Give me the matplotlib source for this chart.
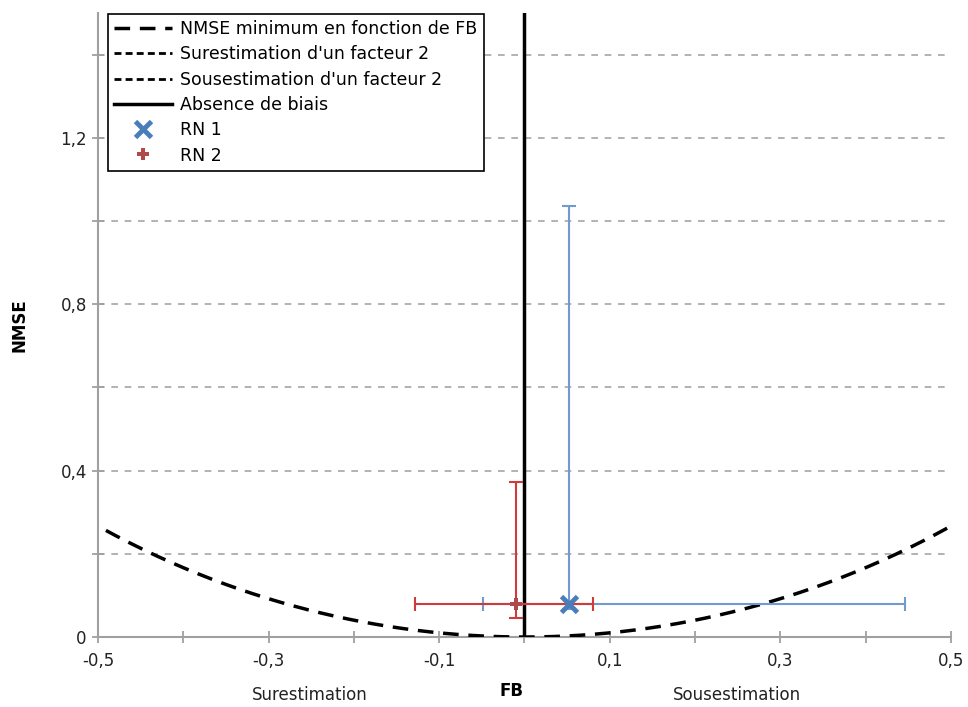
import numpy as np
import matplotlib
matplotlib.use("Agg")
import matplotlib.pyplot as plt

# Data
fb_rn1 = 0.052
nmse_rn1 = 0.079
fb_err_rn1 = [0.101, 0.394]      # left, right
nmse_err_rn1 = [0.012, 0.958]    # down, up

fb_rn2 = -0.010
nmse_rn2 = 0.079
fb_err_rn2 = [0.118, 0.090]
nmse_err_rn2 = [0.033, 0.294]

xticks = [-0.5, -0.3, -0.1, 0.1, 0.3, 0.5]
xtick_labels = ["-0,5", "-0,3", "-0,1", "0,1", "0,3", "0,5"]
xminor = [-0.4, -0.2, 0.0, 0.2, 0.4]
yticks = [0, 0.4, 0.8, 1.2]
ytick_labels = ["0", "0,4", "0,8", "1,2"]
yminor = [0.2, 0.6, 1.0, 1.4]

plt.rcParams['font.family'] = ['DejaVu Sans']

fig = plt.figure(figsize=(9.68, 7.07), dpi=100)
ax = fig.add_axes([0.1012, 0.099, 0.8812, 0.8826])
ax.set_xlim(-0.5, 0.5)
ax.set_ylim(0, 1.5)

# grid
for y in yminor + yticks[1:]:
    ax.axhline(y, color="#a6a6a6", lw=1.2, ls=(0, (4, 4)), zorder=0)

# NMSE min curve
fb = np.linspace(-0.8, 0.8, 400)
nmse_min = 4 * fb**2 / (4 - fb**2)
ax.plot(fb, nmse_min, color="black", lw=2.5, ls=(0, (4.5, 2.8)),
        label="NMSE minimum en fonction de FB", zorder=3)
ax.axvline(2/3, color="black", lw=2, ls=(0, (2.5, 1.5)), label="Surestimation d'un facteur 2")
ax.axvline(-2/3, color="black", lw=2, ls=(0, (2.5, 1.5)), label="Sousestimation d'un facteur 2")
ax.axvline(0, color="black", lw=2.5, label="Absence de biais", zorder=4)

# error bars
ax.errorbar(fb_rn1, nmse_rn1, xerr=[[fb_err_rn1[0]], [fb_err_rn1[1]]],
            yerr=[[nmse_err_rn1[0]], [nmse_err_rn1[1]]], fmt="none",
            ecolor="#6f9bd0", elinewidth=1.5, capsize=5, capthick=1.5, zorder=5)
ax.errorbar(fb_rn2, nmse_rn2, xerr=[[fb_err_rn2[0]], [fb_err_rn2[1]]],
            yerr=[[nmse_err_rn2[0]], [nmse_err_rn2[1]]], fmt="none",
            ecolor="#d03a3a", elinewidth=1.5, capsize=5, capthick=1.5, zorder=5)
ax.plot(fb_rn1, nmse_rn1, ls="none", marker="x", ms=11, mew=3.5,
        color="#4a7ebb", label="RN 1", zorder=6)
ax.plot(fb_rn2, nmse_rn2, ls="none", marker="P", ms=9, mew=0,
        color="#b04a4a", label="RN 2", zorder=6)

# spines / ticks
for s in ["top", "right"]:
    ax.spines[s].set_visible(False)
for s in ["left", "bottom"]:
    ax.spines[s].set_color("#a0a0a0")
    ax.spines[s].set_linewidth(1.5)
ax.set_xticks(xticks)
ax.set_xticklabels(xtick_labels)
ax.set_xticks(xminor, minor=True)
ax.set_yticks(yticks)
ax.set_yticklabels(ytick_labels)
ax.set_yticks(yminor, minor=True)
ax.tick_params(which="both", direction="inout", length=9, width=1.3,
               color="#a0a0a0", labelsize=12, labelcolor="#222222")
ax.tick_params(axis="x", pad=6)

ax.set_xlabel("FB", fontsize=12, fontweight="bold")
ax.xaxis.set_label_coords(0.485, -0.072)
ax.set_ylabel("NMSE", fontsize=12, fontweight="bold", labelpad=23)
fig.text(310/968, 1 - 695/707, "Surestimation", fontsize=12, ha="center", va="center", color="#222222")
fig.text(737/968, 1 - 695/707, "Sousestimation", fontsize=12, ha="center", va="center", color="#222222")

leg = ax.legend(loc="upper left", bbox_to_anchor=(0.008, 1.004), fontsize=12.5,
                frameon=True, fancybox=False, edgecolor="black", framealpha=1,
                handlelength=3.3, borderpad=0.35, labelspacing=0.42, handletextpad=0.5,
                borderaxespad=0.2)
leg.get_frame().set_linewidth(1.2)

fig.savefig("out.png", dpi=100)
